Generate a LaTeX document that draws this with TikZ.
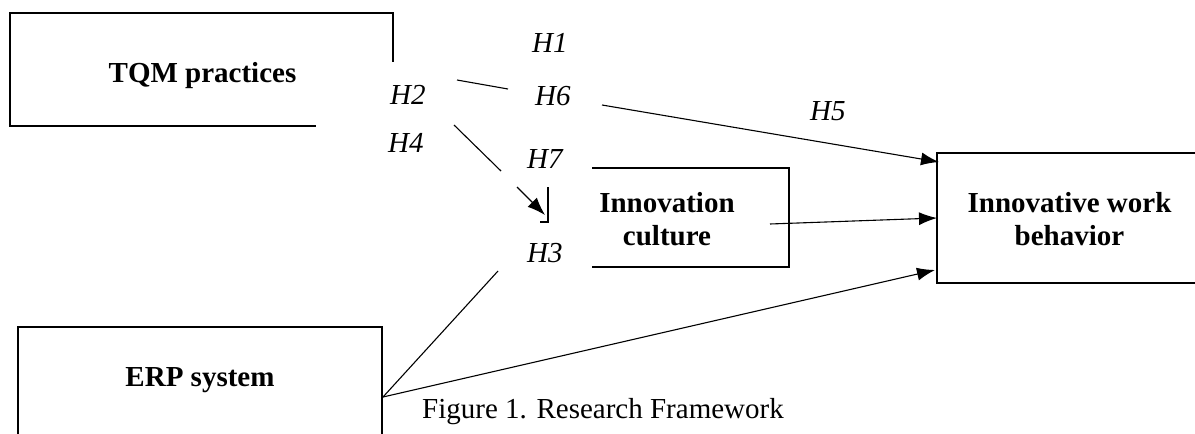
\documentclass[tikz,border=0pt]{standalone}
\usepackage{fontspec}
\setmainfont{Liberation Serif}
\usetikzlibrary{arrows.meta}
\begin{document}
\begin{tikzpicture}[x=1pt,y=-1pt,
  boxline/.style={line width=2.2pt,line cap=rect},
  conn/.style={line width=1.1pt},
  arr/.style={conn,-{Latex[length=18pt,width=13pt]}},
  lbl/.style={font=\fontsize{29}{33}\selectfont\bfseries,align=center,inner sep=0pt,anchor=base},
  hyp/.style={font=\fontsize{29}{33}\selectfont\itshape,inner sep=0pt,anchor=base west},
  captionstyle/.style={font=\fontsize{29}{33}\selectfont,inner sep=0pt,anchor=base west}
]
\useasboundingbox (0,0) rectangle (1195,434);
% boxes (open outlines as in the figure)
\draw[boxline] (315,126) -- (10,126) -- (10,13) -- (393,13) -- (393,61);
\draw[boxline] (593,168) -- (789,168) -- (789,267) -- (593,267);
\draw[boxline] (1200,153) -- (937,153) -- (937,283) -- (1200,283);
\draw[boxline] (18,440) -- (18,327) -- (382,327) -- (382,440);
\draw[line width=1.6pt] (548,187) -- (548,222) -- (540,222);
% texts
\node[lbl] (tqm) at (202.5,82) {TQM practices};
\node[lbl] (icul) at (667,245) {Innovation\\culture};
\node[lbl] (iwb) at (1069.5,245) {Innovative work\\behavior};
\node[lbl] (erp) at (200,386) {ERP system};
\node[captionstyle] (cap) at (422,418) {Figure 1. Research Framework};
\node[hyp] (h1) at (532,52) {H1};
\node[hyp] (h2) at (390,104) {H2};
\node[hyp] (h6) at (535,105) {H6};
\node[hyp] (h4) at (388,152) {H4};
\node[hyp] (h7) at (527,168) {H7};
\node[hyp] (h3) at (527,262) {H3};
\node[hyp] (h5) at (810,120) {H5};
% connector end points
\coordinate (tqmA) at (457,80);
\coordinate (tqmB) at (508,89);
\coordinate (tqmC) at (602,105);
\coordinate (iwbTop) at (939,162);
\coordinate (tqmD) at (454,125);
\coordinate (tqmE) at (501,171);
\coordinate (tqmF) at (517,187);
\coordinate (icIn) at (545,215);
\coordinate (icOut) at (770,224);
\coordinate (iwbMid) at (937,218);
\coordinate (erpOut) at (383,397);
\coordinate (h3end) at (498,271);
\coordinate (iwbBot) at (935,270);
% connectors
\draw[conn] (tqmA) -- (tqmB);
\draw[arr] (tqmC) -- (iwbTop);
\draw[conn] (tqmD) -- (tqmE);
\draw[arr] (tqmF) -- (icIn);
\draw[arr] (icOut) -- (iwbMid);
\draw[conn] (erpOut) -- (h3end);
\draw[arr] (erpOut) -- (iwbBot);
\end{tikzpicture}
\end{document}
